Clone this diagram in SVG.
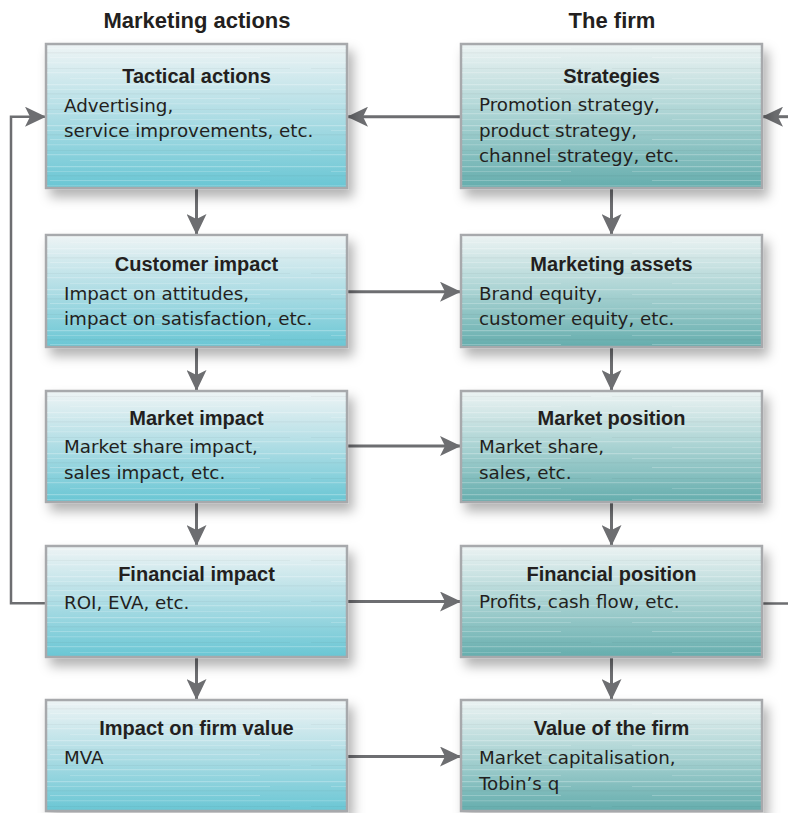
<svg xmlns="http://www.w3.org/2000/svg" width="788" height="813" viewBox="0 0 788 813">
<defs>
<linearGradient id="gL" x1="0" y1="0" x2="0" y2="1">
<stop offset="0" stop-color="#eef4f5"/>
<stop offset="0.45" stop-color="#b5dfe6"/>
<stop offset="1" stop-color="#69c6d4"/>
</linearGradient>
<linearGradient id="gR" x1="0" y1="0" x2="0" y2="1">
<stop offset="0" stop-color="#ecf3f3"/>
<stop offset="0.45" stop-color="#b0d6d6"/>
<stop offset="1" stop-color="#65adad"/>
</linearGradient>
<pattern id="streak" patternUnits="userSpaceOnUse" width="301" height="41">
<rect x="0" y="2" width="301" height="1.2" fill="#ffffff" opacity="0.25"/>
<rect x="30" y="7" width="240" height="1" fill="#ffffff" opacity="0.18"/>
<rect x="0" y="11" width="301" height="1.5" fill="#000000" opacity="0.03"/>
<rect x="50" y="16" width="210" height="1" fill="#ffffff" opacity="0.22"/>
<rect x="0" y="21" width="301" height="1.3" fill="#ffffff" opacity="0.15"/>
<rect x="10" y="27" width="280" height="1" fill="#000000" opacity="0.035"/>
<rect x="0" y="31" width="301" height="1.2" fill="#ffffff" opacity="0.22"/>
<rect x="70" y="37" width="190" height="1" fill="#ffffff" opacity="0.16"/>
</pattern>
<filter id="sh" x="-10%" y="-15%" width="130%" height="145%">
<feDropShadow dx="5" dy="8" stdDeviation="6" flood-color="#000000" flood-opacity="0.3"/>
</filter>
<marker id="ah" markerUnits="userSpaceOnUse" markerWidth="22" markerHeight="20" refX="21" refY="10" orient="auto">
<path d="M0,0 L21,10 L0,20 L5,10 Z" fill="#6d6e71"/>
</marker>
</defs>
<style>
.bl{fill:url(#gL);stroke:#a7a9ac;stroke-width:2.5}
.br{fill:url(#gR);stroke:#a7a9ac;stroke-width:2.5}
.st{fill:url(#streak);stroke:none}
.hd{font-family:"Liberation Sans",Arial,sans-serif;font-weight:bold;font-size:22px;fill:#231f20;text-anchor:middle}
.tt{font-family:"Liberation Sans",Arial,sans-serif;font-weight:bold;font-size:20px;fill:#231f20;text-anchor:middle}
.tx{font-family:"DejaVu Sans",sans-serif;font-size:18.3px;fill:#231f20}
.c{stroke:#6d6e71;stroke-width:3;fill:none}
.f{stroke:#6d6e71;stroke-width:2.5;fill:none}
</style>
<rect width="788" height="813" fill="#ffffff"/>
<text class="hd" x="197" y="28">Marketing actions</text>
<text class="hd" x="612" y="28">The firm</text>

<g id="connectors">
<line class="c" x1="196.5" y1="189" x2="196.5" y2="235" marker-end="url(#ah)"/>
<line class="c" x1="196.5" y1="348" x2="196.5" y2="391" marker-end="url(#ah)"/>
<line class="c" x1="196.5" y1="503" x2="196.5" y2="546" marker-end="url(#ah)"/>
<line class="c" x1="196.5" y1="658" x2="196.5" y2="700" marker-end="url(#ah)"/>
<line class="c" x1="611.5" y1="189" x2="611.5" y2="235" marker-end="url(#ah)"/>
<line class="c" x1="611.5" y1="348" x2="611.5" y2="391" marker-end="url(#ah)"/>
<line class="c" x1="611.5" y1="503" x2="611.5" y2="546" marker-end="url(#ah)"/>
<line class="c" x1="611.5" y1="658" x2="611.5" y2="700" marker-end="url(#ah)"/>
<line class="c" x1="461" y1="116.7" x2="347" y2="116.7" marker-end="url(#ah)"/>
<line class="c" x1="788" y1="116.7" x2="762" y2="116.7" marker-end="url(#ah)"/>
<line class="c" x1="348" y1="291.7" x2="461" y2="291.7" marker-end="url(#ah)"/>
<line class="c" x1="348" y1="446" x2="461" y2="446" marker-end="url(#ah)"/>
<line class="c" x1="348" y1="601.5" x2="461" y2="601.5" marker-end="url(#ah)"/>
<line class="c" x1="348" y1="756.5" x2="461" y2="756.5" marker-end="url(#ah)"/>
<polyline class="f" points="46,603.3 11,603.3 11,116.7 46,116.7" marker-end="url(#ah)"/>
<line class="f" x1="763" y1="603.5" x2="788" y2="603.5"/>
</g>

<g id="tactical-actions">
<rect class="bl" x="46" y="44" width="301" height="144" filter="url(#sh)"/>
<rect class="st" x="47" y="45" width="299" height="142"/>
<text class="tt" x="196.5" y="82.5">Tactical actions</text>
<text class="tx" x="64" y="111.5">Advertising,</text>
<text class="tx" x="64" y="136.5">service improvements, etc.</text>
</g>

<g id="strategies">
<rect class="br" x="461" y="44" width="301" height="144" filter="url(#sh)"/>
<rect class="st" x="462" y="45" width="299" height="142"/>
<text class="tt" x="611.5" y="82.5">Strategies</text>
<text class="tx" x="479" y="111">Promotion strategy,</text>
<text class="tx" x="479" y="136.5">product strategy,</text>
<text class="tx" x="479" y="161.5">channel strategy, etc.</text>
</g>

<g id="customer-impact">
<rect class="bl" x="46" y="235" width="301" height="112" filter="url(#sh)"/>
<rect class="st" x="47" y="236" width="299" height="110"/>
<text class="tt" x="196.5" y="270.5">Customer impact</text>
<text class="tx" x="64" y="300">Impact on attitudes,</text>
<text class="tx" x="64" y="325">impact on satisfaction, etc.</text>
</g>

<g id="marketing-assets">
<rect class="br" x="461" y="235" width="301" height="112" filter="url(#sh)"/>
<rect class="st" x="462" y="236" width="299" height="110"/>
<text class="tt" x="611.5" y="270.5">Marketing assets</text>
<text class="tx" x="479" y="300">Brand equity,</text>
<text class="tx" x="479" y="325">customer equity, etc.</text>
</g>

<g id="market-impact">
<rect class="bl" x="46" y="391" width="301" height="111" filter="url(#sh)"/>
<rect class="st" x="47" y="392" width="299" height="109"/>
<text class="tt" x="196.5" y="425">Market impact</text>
<text class="tx" x="64" y="453">Market share impact,</text>
<text class="tx" x="64" y="479">sales impact, etc.</text>
</g>

<g id="market-position">
<rect class="br" x="461" y="391" width="301" height="111" filter="url(#sh)"/>
<rect class="st" x="462" y="392" width="299" height="109"/>
<text class="tt" x="611.5" y="425">Market position</text>
<text class="tx" x="479" y="453">Market share,</text>
<text class="tx" x="479" y="479">sales, etc.</text>
</g>

<g id="financial-impact">
<rect class="bl" x="46" y="546" width="301" height="111" filter="url(#sh)"/>
<rect class="st" x="47" y="547" width="299" height="109"/>
<text class="tt" x="196.5" y="580.5">Financial impact</text>
<text class="tx" x="64" y="609">ROI, EVA, etc.</text>
</g>

<g id="financial-position">
<rect class="br" x="461" y="546" width="301" height="111" filter="url(#sh)"/>
<rect class="st" x="462" y="547" width="299" height="109"/>
<text class="tt" x="611.5" y="580.5">Financial position</text>
<text class="tx" x="479" y="608">Profits, cash flow, etc.</text>
</g>

<g id="impact-on-firm-value">
<rect class="bl" x="46" y="700" width="301" height="111" filter="url(#sh)"/>
<rect class="st" x="47" y="701" width="299" height="109"/>
<text class="tt" x="196.5" y="735">Impact on firm value</text>
<text class="tx" x="64" y="764">MVA</text>
</g>

<g id="value-of-the-firm">
<rect class="br" x="461" y="700" width="301" height="111" filter="url(#sh)"/>
<rect class="st" x="462" y="701" width="299" height="109"/>
<text class="tt" x="611.5" y="735">Value of the firm</text>
<text class="tx" x="479" y="764">Market capitalisation,</text>
<text class="tx" x="479" y="790">Tobin’s q</text>
</g>
</svg>
